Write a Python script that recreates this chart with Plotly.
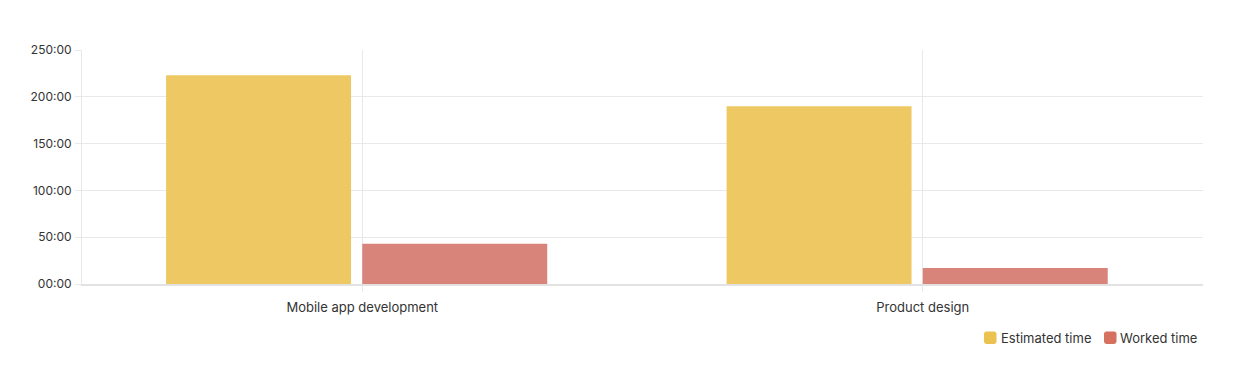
import plotly.graph_objects as go

categories = ["Mobile app development", "Product design"]
estimated_hours = [223, 190]
worked_hours = [43, 17]
y_tick_values = [0, 50, 100, 150, 200, 250]
y_tick_labels = ["00:00", "50:00", "100:00", "150:00", "200:00", "250:00"]
series_names = ["Estimated time", "Worked time"]
bar_colors = ["#EEC862", "#D9847B"]
legend_colors = ["#EBC150", "#D6705F"]

# Figure geometry (page body has an 8px margin)
FIG_W, FIG_H = 1224, 361
ML, MR, MT, MB = 74, 29, 42, 85
PW = FIG_W - ML - MR
PH = FIG_H - MT - MB

fig = go.Figure()
fig.add_trace(go.Bar(
    x=categories, y=estimated_hours, name=series_names[0],
    offset=-0.35, width=0.33,
    marker=dict(color=bar_colors[0], line=dict(width=0)),
))
fig.add_trace(go.Bar(
    x=categories, y=worked_hours, name=series_names[1],
    offset=0.0, width=0.33,
    marker=dict(color=bar_colors[1], line=dict(width=0)),
))


def px_to_paper(px_x, px_y):
    # screen px -> paper coords (plot left at 82, bottom at 284)
    return (px_x - 82) / PW, (284 - px_y) / PH


def rounded_rect(x0, y0, x1, y1, r=2.5):
    def p(x, y):
        a, b = px_to_paper(x, y)
        return f"{a:.5f},{b:.5f}"
    return (f"M {p(x0 + r, y0)} L {p(x1 - r, y0)} Q {p(x1, y0)} {p(x1, y0 + r)} "
            f"L {p(x1, y1 - r)} Q {p(x1, y1)} {p(x1 - r, y1)} "
            f"L {p(x0 + r, y1)} Q {p(x0, y1)} {p(x0, y1 - r)} "
            f"L {p(x0, y0 + r)} Q {p(x0, y0)} {p(x0 + r, y0)} Z")


legend_items = [(984, 1000), (1104, 1119)]
shapes = []
annotations = []
for (sx, tx), name, col in zip(legend_items, series_names, legend_colors):
    shapes.append(dict(type="path", xref="paper", yref="paper",
                       path=rounded_rect(sx, 331.5, sx + 12.5, 344),
                       fillcolor=col, line=dict(width=0)))
    ax, ay = px_to_paper(tx, 338)
    annotations.append(dict(xref="paper", yref="paper", x=ax, y=ay,
                            xanchor="left", yanchor="middle", showarrow=False,
                            text=name, borderpad=0,
                            font=dict(size=13, color="#333333")))

fig.update_layout(
    width=FIG_W, height=FIG_H,
    margin=dict(l=ML, r=MR, t=MT, b=MB),
    paper_bgcolor="white", plot_bgcolor="white",
    barmode="overlay",
    font=dict(family="Inter", size=12, color="#333333"),
    showlegend=False,
    shapes=shapes,
    annotations=annotations,
)
fig.update_xaxes(
    showgrid=True, gridcolor="#E8E8E8", gridwidth=1,
    ticks="outside", ticklen=6, tickcolor="#E8E8E8",
    showline=True, linecolor="#E2E2E2", linewidth=2,
    ticklabelstandoff=4,
    tickfont=dict(size=13, color="#333333"),
)
fig.update_yaxes(
    range=[0, 250], tickvals=y_tick_values, ticktext=y_tick_labels,
    showgrid=True, gridcolor="#E8E8E8", gridwidth=1,
    ticks="outside", ticklen=6, tickcolor="#E8E8E8",
    showline=True, linecolor="#E8E8E8", linewidth=1,
    zeroline=False, ticklabelstandoff=1,
    tickfont=dict(size=12, color="#333333"),
)

fig.write_html("out.html")
